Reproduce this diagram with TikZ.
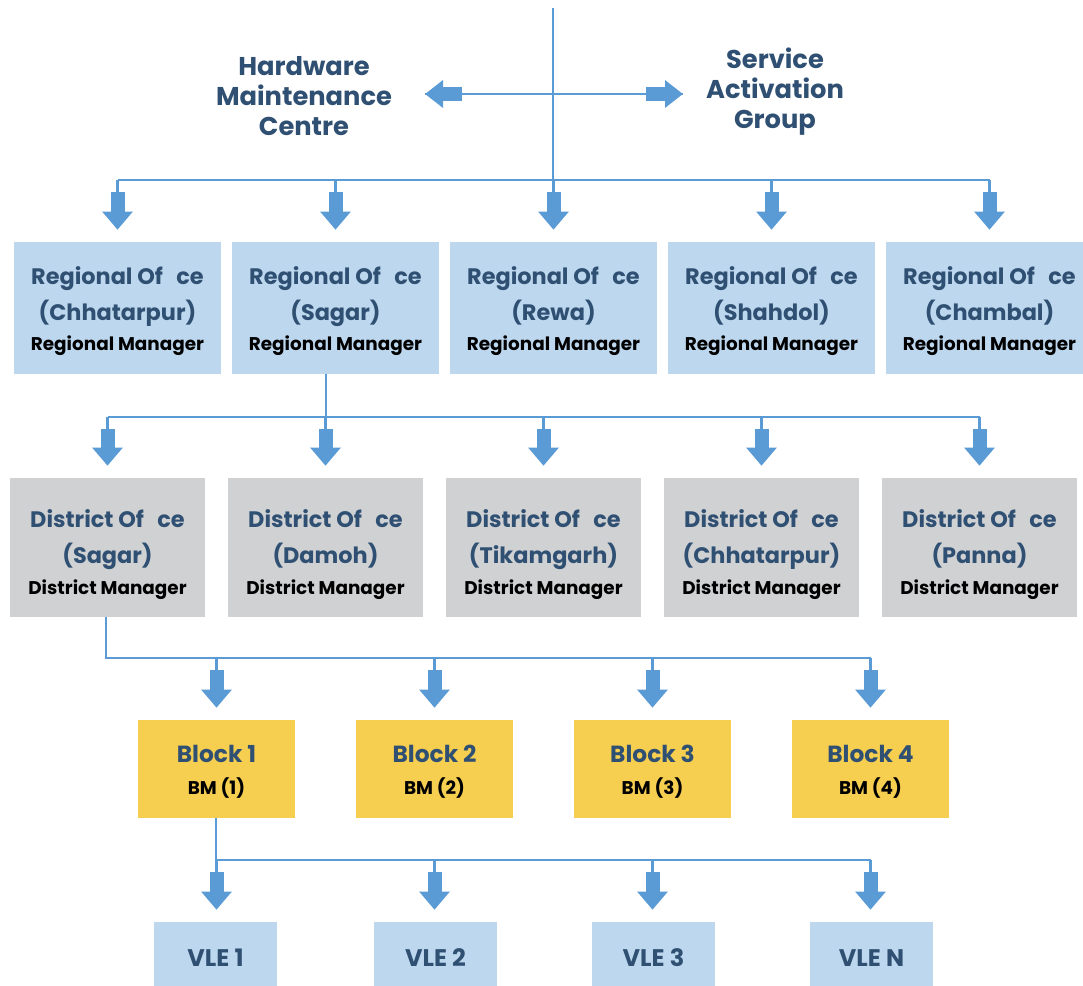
\documentclass[tikz,border=0pt]{standalone}
\usepackage{fontspec}
\setmainfont{Poppins}
\usetikzlibrary{arrows.meta}

\definecolor{arrowblue}{HTML}{5B9BD5}
\definecolor{textblue}{HTML}{2F5072}
\definecolor{regfill}{HTML}{BDD7EE}
\definecolor{distfill}{HTML}{D0D1D3}
\definecolor{blockfill}{HTML}{F6CE50}

\newcommand\mgrfont{\color{black}\bfseries\fontsize{13.8}{15}\selectfont}
\newcommand\ofce{Of\hspace{0.6em}ce}

\tikzset{
  wire/.style={draw=arrowblue, line width=1.6pt},
  fat/.style={draw=arrowblue, line width=10.5pt,
    -{Triangle[width=22pt,length=13.5pt]}, shorten <=9pt, shorten >=9pt},
  sidefat/.style={draw=arrowblue, line width=11pt,
    -{Triangle[width=20pt,length=13.5pt]}},
  title/.style={text=textblue, align=center,
    font=\bfseries\fontsize{19.3}{22.5}\selectfont},
  regbox/.style={fill=regfill, minimum width=155.25pt, minimum height=99pt,
    inner sep=0pt, align=center, text=textblue,
    font=\bfseries\fontsize{16.8}{27}\selectfont},
  distbox/.style={regbox, fill=distfill, minimum width=146.25pt,
    minimum height=104.25pt},
  blockbox/.style={regbox, fill=blockfill, minimum width=117.75pt,
    minimum height=73.5pt, font=\bfseries\fontsize{17.5}{27}\selectfont},
  vlebox/.style={regbox, minimum width=92.25pt, minimum height=54pt,
    font=\bfseries\fontsize{18}{27}\selectfont}
}

\begin{document}
\begin{tikzpicture}[x=0.75pt,y=-0.75pt]
  \useasboundingbox (0,0) rectangle (1083,986);

  % top of the tree
  \coordinate (top) at (553,8);
  \coordinate (split) at (553,94);
  \coordinate (hwtip) at (425,94);
  \coordinate (satip) at (683,94);
  \node[title] (hw) at (304,96) {Hardware\\Maintenance\\Centre};
  \node[title] (sa) at (775,92) {Service\\Activation\\Group};

  % regional offices
  \node[regbox] (reg1) at (117.5,308) {\rule{0pt}{18pt}Regional \ofce\\(Chhatarpur)\\[-4pt]{\mgrfont Regional Manager}};
  \node[regbox] (reg2) at (335.5,308) {\rule{0pt}{18pt}Regional \ofce\\(Sagar)\\[-4pt]{\mgrfont Regional Manager}};
  \node[regbox] (reg3) at (553.5,308) {\rule{0pt}{18pt}Regional \ofce\\(Rewa)\\[-4pt]{\mgrfont Regional Manager}};
  \node[regbox] (reg4) at (771.5,308) {\rule{0pt}{18pt}Regional \ofce\\(Shahdol)\\[-4pt]{\mgrfont Regional Manager}};
  \node[regbox] (reg5) at (989.5,308) {\rule{0pt}{18pt}Regional \ofce\\(Chambal)\\[-4pt]{\mgrfont Regional Manager}};

  % district offices
  \node[distbox] (dist1) at (107.5,547.5) {\rule{0pt}{24pt}District \ofce\\(Sagar)\\[-4pt]{\mgrfont District Manager}};
  \node[distbox] (dist2) at (325.5,547.5) {\rule{0pt}{24pt}District \ofce\\(Damoh)\\[-4pt]{\mgrfont District Manager}};
  \node[distbox] (dist3) at (543.5,547.5) {\rule{0pt}{24pt}District \ofce\\(Tikamgarh)\\[-4pt]{\mgrfont District Manager}};
  \node[distbox] (dist4) at (761.5,547.5) {\rule{0pt}{24pt}District \ofce\\(Chhatarpur)\\[-4pt]{\mgrfont District Manager}};
  \node[distbox] (dist5) at (979.5,547.5) {\rule{0pt}{24pt}District \ofce\\(Panna)\\[-4pt]{\mgrfont District Manager}};

  % blocks
  \foreach \i/\x in {1/216.5,2/434.5,3/652.5,4/870.5}
    \node[blockbox] (blk\i) at (\x,769) {\rule{0pt}{17pt}Block \i\\[-3.5pt]{\mgrfont BM (\i)}};

  % village level entrepreneurs
  \node[vlebox] (vle1) at (215.5,958) {VLE 1};
  \node[vlebox] (vle2) at (435.5,958) {VLE 2};
  \node[vlebox] (vle3) at (653.5,958) {VLE 3};
  \node[vlebox] (vle4) at (871.5,958) {VLE N};

  % bus lines
  \coordinate (regbus) at (553,180);
  \coordinate (distbus) at (326,417);
  \coordinate (blkbus) at (106,658);
  \coordinate (vlebus) at (216,860);

  \draw[wire] (top) -- (regbus);
  \draw[wire] (hwtip) -- (satip);
  \draw[sidefat] (split) ++(-91,0) -- (hwtip);
  \draw[sidefat] (split) ++(93,0) -- (satip);

  \draw[wire] (regbus -| reg1) -- (regbus -| reg5);
  \foreach \i in {1,...,5} {
    \draw[wire, shorten >=12pt] (regbus -| reg\i) -- (reg\i.north);
    \draw[fat] (regbus -| reg\i) -- (reg\i.north);
  }

  \draw[wire] (reg2.south -| distbus) -- (distbus);
  \draw[wire] (distbus -| dist1) -- (distbus -| dist5);
  \foreach \i in {1,...,5} {
    \draw[wire, shorten >=12pt] (distbus -| dist\i) -- (dist\i.north);
    \draw[fat] (distbus -| dist\i) -- (dist\i.north);
  }

  \draw[wire] (dist1.south -| blkbus) -- (blkbus) -- (blkbus -| blk4);
  \foreach \i in {1,...,4} {
    \draw[wire, shorten >=12pt] (blkbus -| blk\i) -- (blk\i.north);
    \draw[fat] (blkbus -| blk\i) -- (blk\i.north);
  }

  \draw[wire] (blk1.south -| vlebus) -- (vlebus) -- (vlebus -| blk4);
  \foreach \i in {1,...,4} {
    \draw[wire, shorten >=12pt] (vlebus -| blk\i) -- (vle\i.north -| blk\i);
    \draw[fat] (vlebus -| blk\i) -- (vle\i.north -| blk\i);
  }
\end{tikzpicture}
\end{document}
